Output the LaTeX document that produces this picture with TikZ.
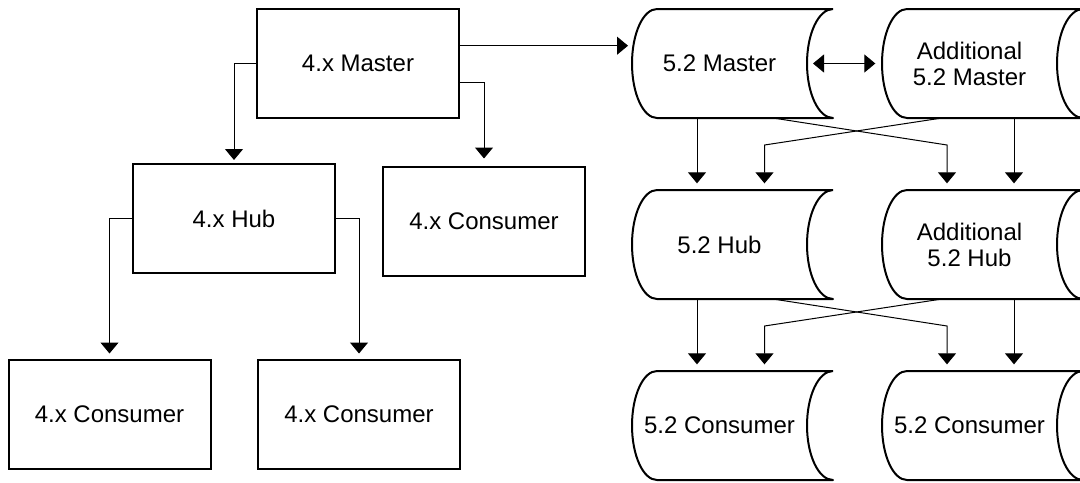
\documentclass[tikz,border=0pt]{standalone}
\usepackage{fontspec}
\setmainfont{Liberation Sans}
\usetikzlibrary{arrows.meta}
\tikzset{
  box/.style={draw, line width=1.5pt, minimum width=151.5pt, minimum height=81.75pt, inner sep=0pt, outer sep=0pt, align=center, font=\fontsize{18pt}{19.5pt}\selectfont},
  cylbody/.style={minimum width=131.25pt, minimum height=81.75pt, inner sep=0pt, outer sep=0pt, align=center, font=\fontsize{18pt}{19.5pt}\selectfont},
  cylline/.style={draw, line width=1.5pt, line join=round},
  conn/.style={line width=0.75pt, -{Triangle[width=13.5pt,length=8.25pt]}},
  conn2/.style={line width=0.75pt, {Triangle[width=13.5pt,length=8.25pt]}-{Triangle[width=13.5pt,length=8.25pt]}}
}
\newcommand\cylout[1]{%
  \draw[cylline] ([xshift=19.5pt]#1.north east) -- ([xshift=18.75pt]#1.north west)
    arc[start angle=90, end angle=270, x radius=18.75pt, y radius=40.875pt]
    -- ([xshift=19.5pt]#1.south east)
    arc[start angle=270, end angle=90, x radius=19.5pt, y radius=40.875pt];}
\begin{document}
\begin{tikzpicture}[x=0.75pt, y=-0.75pt]
\useasboundingbox (0,0) rectangle (1080,482);
% 4.x boxes
\node[box] (m4)  at (358,63.5)  {4.x Master};
\node[box] (h4)  at (234,218.5) {4.x Hub};
\node[box] (c4m) at (484,221)   {4.x Consumer};
\node[box] (c4a) at (109.5,414) {4.x Consumer};
\node[box] (c4b) at (359,414)   {4.x Consumer};
% 5.2 cylinders
\node[cylbody] (m52)  at (719.5,63.5)  {5.2 Master};
\node[cylbody] (a52)  at (969.5,63.5)  {Additional\\5.2 Master};
\node[cylbody] (h52)  at (719.5,244.5) {5.2 Hub};
\node[cylbody] (ah52) at (969.5,244.5) {Additional\\5.2 Hub};
\node[cylbody] (c52a) at (719.5,425.5) {5.2 Consumer};
\node[cylbody] (c52b) at (969.5,425.5) {5.2 Consumer};
\cylout{m52}\cylout{a52}\cylout{h52}\cylout{ah52}\cylout{c52a}\cylout{c52b}
% 4.x connectors
\draw[conn, shorten >=3pt] (m4.west) -| (h4.north);
\draw[conn, shorten >=6pt] ([yshift=-13.9pt]m4.east) -| (c4m.north);
\draw[conn, shorten >=4.5pt] (h4.west) -| (c4a.north);
\draw[conn, shorten >=4.5pt] (h4.east) -| (c4b.north);
% 4.x -> 5.2
\draw[conn, shorten >=3pt] ([yshift=13.35pt]m4.east) -- ([yshift=13.35pt]m52.west);
\draw[conn2, shorten <=4.5pt, shorten >=5pt] (m52.east) -- (a52.west);
% master -> hub level
\draw[conn, shorten >=5pt] ([xshift=-16.875pt]m52.south) -- ([xshift=-16.875pt]h52.north);
\draw[conn, shorten >=5pt] ([xshift=40.125pt]m52.south) -- ([xshift=-16.875pt,yshift=-20.25pt]ah52.north |- m52.south) -- ([xshift=-16.875pt]ah52.north);
\draw[conn, shorten >=5pt] ([xshift=-20.625pt]a52.south) -- ([xshift=33.75pt,yshift=-20.25pt]h52.north |- a52.south) -- ([xshift=33.75pt]h52.north);
\draw[conn, shorten >=5pt] ([xshift=33.375pt]a52.south) -- ([xshift=33.375pt]ah52.north);
% hub -> consumer level
\draw[conn, shorten >=5pt] ([xshift=-16.875pt]h52.south) -- ([xshift=-16.875pt]c52a.north);
\draw[conn, shorten >=5pt] ([xshift=40.125pt]h52.south) -- ([xshift=-16.875pt,yshift=-20.25pt]c52b.north |- h52.south) -- ([xshift=-16.875pt]c52b.north);
\draw[conn, shorten >=5pt] ([xshift=-20.625pt]ah52.south) -- ([xshift=33.75pt,yshift=-20.25pt]c52a.north |- ah52.south) -- ([xshift=33.75pt]c52a.north);
\draw[conn, shorten >=5pt] ([xshift=33.375pt]ah52.south) -- ([xshift=33.375pt]c52b.north);
\end{tikzpicture}
\end{document}
